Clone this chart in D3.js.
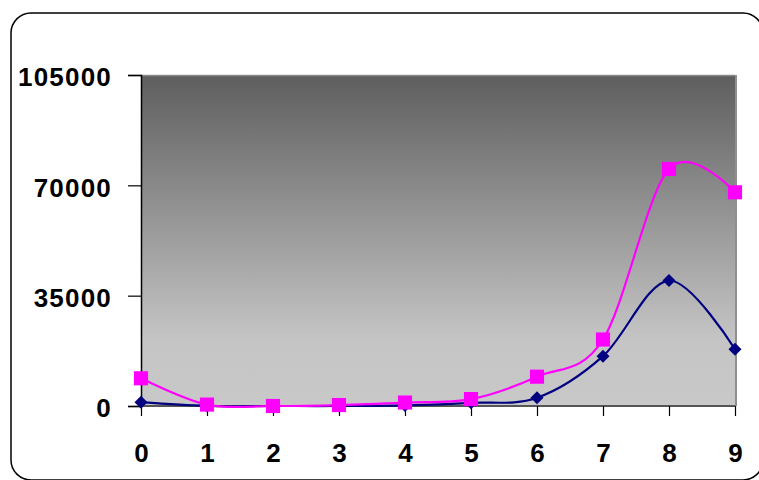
<!DOCTYPE html>
<html>
<head>
<meta charset="utf-8">
<script src="https://cdn.jsdelivr.net/npm/d3@7"></script>
<style>
  html, body { margin: 0; padding: 0; background: #ffffff; }
  svg { display: block; }
  text { font-family: "Liberation Sans", Arial, sans-serif; font-weight: bold; fill: #000; }
</style>
</head>
<body>
<svg id="chart" width="759" height="480"></svg>
<script>
// Categories along the x axis
const categories = [0, 1, 2, 3, 4, 5, 6, 7, 8, 9];
// Series values
const navySeries = [1200, 0, 0, 0, 200, 1000, 2600, 15800, 39800, 18000];
const pinkSeries = [8800, 450, 0, 300, 1100, 2200, 9300, 21100, 75200, 67800];
// Value axis ticks
const yTicks = [0, 35000, 70000, 105000];

const svg = d3.select("#chart");

// Plot area bounds
const plot = { left: 141, right: 735, top: 75, bottom: 406 };

const x = d3.scalePoint().domain(categories).range([plot.left, plot.right]);
const y = d3.scaleLinear().domain([0, 105000]).range([plot.bottom, plot.top]);

// Outer rounded frame
svg.append("rect")
  .attr("x", 11).attr("y", 13)
  .attr("width", 752).attr("height", 467)
  .attr("rx", 20).attr("ry", 20)
  .attr("fill", "#fff").attr("stroke", "#000").attr("stroke-width", 1.5);

// Plot background gradient
const defs = svg.append("defs");
const grad = defs.append("linearGradient")
  .attr("id", "plotBg").attr("x1", 0).attr("y1", 0).attr("x2", 0).attr("y2", 1);
grad.append("stop").attr("offset", "0%").attr("stop-color", "#5e5e5e");
grad.append("stop").attr("offset", "80%").attr("stop-color", "#c5c5c5");
grad.append("stop").attr("offset", "100%").attr("stop-color", "#c8c8c8");

svg.append("rect")
  .attr("x", plot.left).attr("y", plot.top)
  .attr("width", plot.right - plot.left).attr("height", plot.bottom - plot.top)
  .attr("fill", "url(#plotBg)");

// Plot edges: light top, gray right
svg.append("line")
  .attr("x1", plot.left).attr("x2", plot.right)
  .attr("y1", plot.top + 0.5).attr("y2", plot.top + 0.5)
  .attr("stroke", "#8a8a8a").attr("stroke-width", 1.5);
svg.append("line")
  .attr("x1", plot.right + 1).attr("x2", plot.right + 1)
  .attr("y1", plot.top).attr("y2", plot.bottom)
  .attr("stroke", "#8f8f8f").attr("stroke-width", 2);

// Value axis
const yAxis = d3.axisLeft(y).tickValues(yTicks).tickSize(13).tickPadding(16)
  .tickFormat(d3.format("d"));
const gy = svg.append("g").attr("transform", `translate(${plot.left},0)`).call(yAxis);
gy.select(".domain").attr("stroke", "#000").attr("stroke-width", 1.5);
gy.selectAll(".tick line").attr("stroke", "#000").attr("stroke-width", 1.2);
gy.selectAll(".tick text").attr("font-size", 26).attr("dy", "0.42em")
  .attr("letter-spacing", 1.2)
  .attr("font-family", "'Liberation Sans', Arial, sans-serif").attr("font-weight", "bold");

// Category axis
const xAxis = d3.axisBottom(x).tickSize(10).tickPadding(28);
const gx = svg.append("g").attr("transform", `translate(0,${plot.bottom})`).call(xAxis);
gx.select(".domain").attr("stroke", "#555").attr("stroke-width", 2)
  .attr("d", `M${plot.left},0H${plot.right}`);
gx.selectAll(".tick line").attr("stroke", "#000").attr("stroke-width", 1.2);
gx.selectAll(".tick text").attr("font-size", 26)
  .attr("font-family", "'Liberation Sans', Arial, sans-serif").attr("font-weight", "bold");

// Smoothed series lines
const line = d3.line()
  .x((d, i) => x(categories[i]))
  .y(d => y(d))
  .curve(d3.curveCardinal.tension(0));

function drawSeries(values, color, rotate, size) {
  const g = svg.append("g");
  g.append("path").datum(values)
    .attr("d", line)
    .attr("fill", "none").attr("stroke", color).attr("stroke-width", 2.2);
  g.selectAll("path.marker").data(values).enter().append("path")
    .attr("class", "marker")
    .attr("d", d3.symbol().type(d3.symbolSquare).size(size))
    .attr("transform", (d, i) => `translate(${x(categories[i])},${y(d)}) rotate(${rotate})`)
    .attr("fill", color);
}

// Navy diamonds underneath, magenta squares on top
drawSeries(navySeries, "#000080", 45, 85);
drawSeries(pinkSeries, "#ff00ff", 0, 200);
</script>
</body>
</html>
